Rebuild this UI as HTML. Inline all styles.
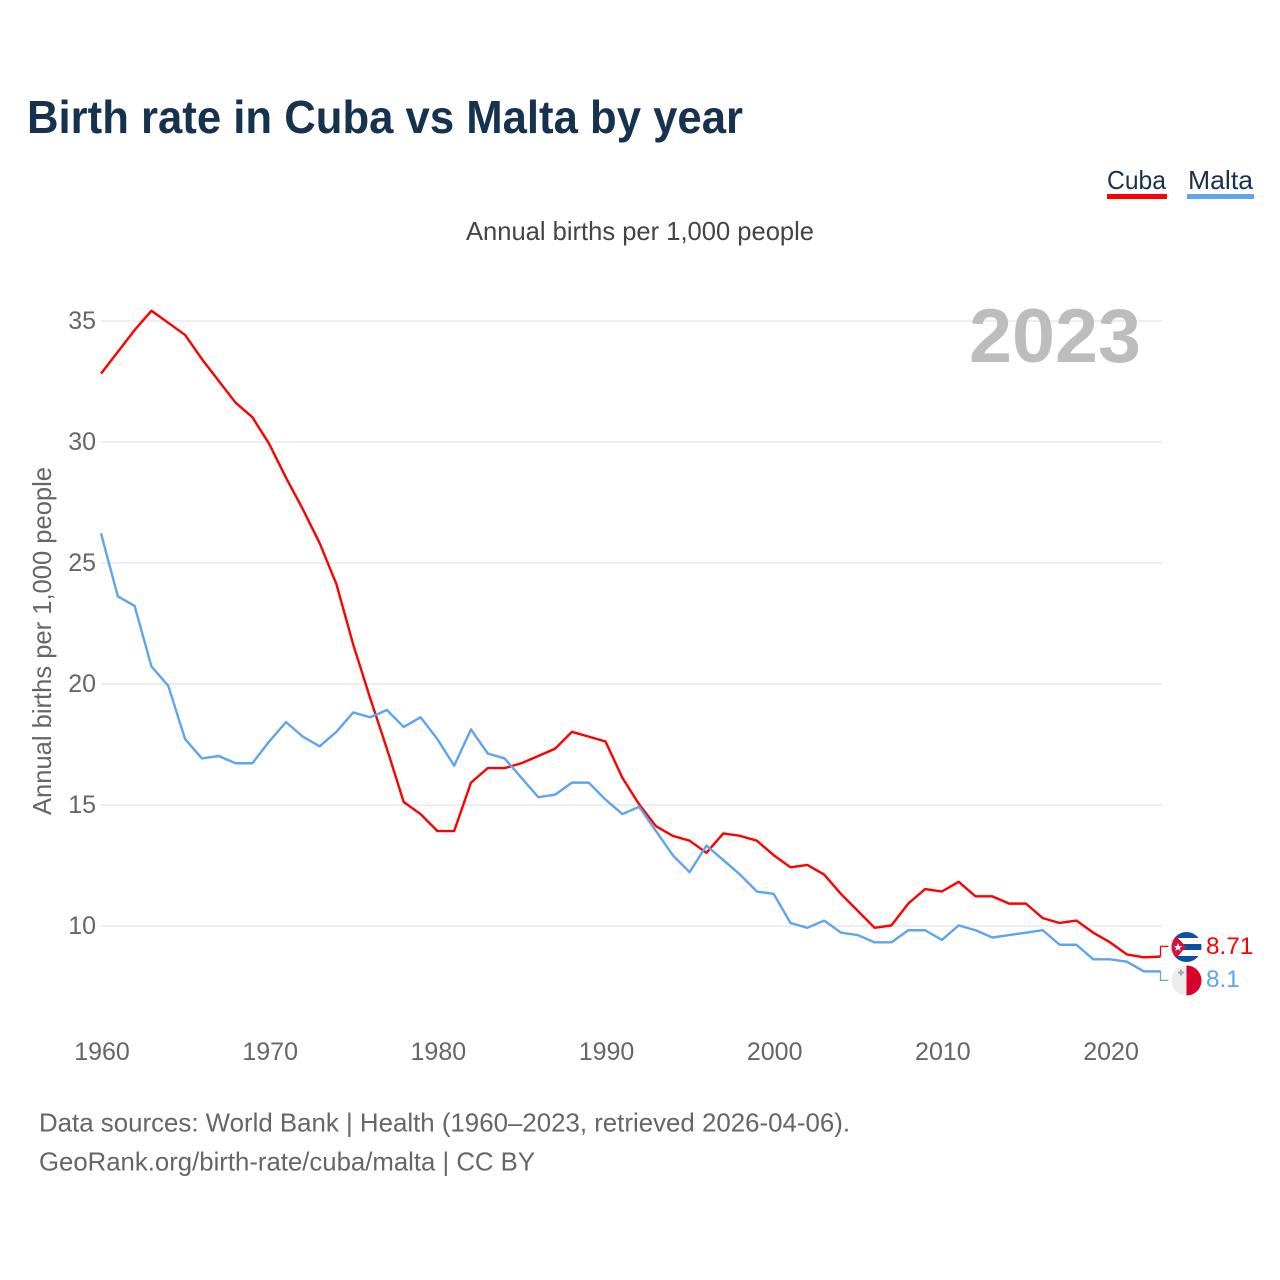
<!DOCTYPE html>
<html lang="en">
<head>
<meta charset="utf-8">
<title>Birth rate in Cuba vs Malta by year</title>
<style>
  html, body { margin: 0; padding: 0; background: #fff; }
  svg { display: block; font-family: "Liberation Sans", sans-serif; }
</style>
</head>
<body>
<svg id="chart" xmlns="http://www.w3.org/2000/svg" width="1280" height="1280" viewBox="0 0 1280 1280">
  <defs>
    <clipPath id="clip-cuba"><circle cx="1186.5" cy="947" r="15"></circle></clipPath>
    <clipPath id="clip-malta"><circle cx="1186.5" cy="980.5" r="15"></circle></clipPath>
  </defs>
  <rect x="0" y="0" width="1280" height="1280" fill="#ffffff"></rect>
  <text x="27" y="133" font-size="46" font-weight="700" fill="#17324f" textLength="716" lengthAdjust="spacingAndGlyphs">Birth rate in Cuba vs Malta by year</text>

  <g>
    <g>
      <text x="1107" y="189" font-size="26" fill="#17324f" textLength="59" lengthAdjust="spacingAndGlyphs">Cuba</text>
      <rect x="1107" y="194" width="60" height="5" fill="#ff0000"></rect>
    </g>
    <g>
      <text x="1188" y="189" font-size="26" fill="#17324f" textLength="65" lengthAdjust="spacingAndGlyphs">Malta</text>
      <rect x="1187" y="194" width="67" height="5" fill="#5ea5ec"></rect>
    </g>
  </g>

  <text x="466" y="240" font-size="26" fill="#444444" textLength="348" lengthAdjust="spacingAndGlyphs">Annual births per 1,000 people</text>
  <text transform="translate(51,815) rotate(-90)" x="0" y="0" font-size="26" fill="#666666" textLength="348" lengthAdjust="spacingAndGlyphs">Annual births per 1,000 people</text>

  <g id="grid"></g>
  <g id="y-ticks"></g>
  <g id="x-ticks"></g>

  <text x="969" y="362" font-size="76" font-weight="700" fill="#bdbdbd" textLength="172" lengthAdjust="spacingAndGlyphs">2023</text>

  <g id="series" transform="translate(-0.5,-0.6)"></g>

  <g clip-path="url(#clip-cuba)">
    <rect x="1171" y="932" width="31" height="30" fill="#ffffff"></rect>
    <rect x="1171" y="932" width="31" height="6" fill="#0a50a8"></rect>
    <rect x="1171" y="944" width="31" height="6" fill="#0a50a8"></rect>
    <rect x="1171" y="956" width="31" height="6" fill="#0a50a8"></rect>
    <polygon points="1171,930 1186,947 1171,964" fill="#d5103a"></polygon>
    <polygon points="1178,943 1179.2,946 1182.2,946 1179.8,948 1180.6,951 1178,949.2 1175.4,951 1176.2,948 1173.8,946 1176.8,946" fill="#ffffff"></polygon>
  </g>
  <g clip-path="url(#clip-malta)">
    <rect x="1171" y="965" width="15.5" height="31" fill="#ececec"></rect>
    <rect x="1186.5" y="965" width="15.5" height="31" fill="#d8002a"></rect>
    <rect x="1178" y="971.5" width="6" height="2" fill="#a8a8a8"></rect>
    <rect x="1180" y="969.5" width="2" height="6" fill="#a8a8a8"></rect>
  </g>

  <g id="end-labels"></g>

  <text x="39" y="1131.5" font-size="26" fill="#666666" textLength="811" lengthAdjust="spacingAndGlyphs">Data sources: World Bank | Health (1960–2023, retrieved 2026-04-06).</text>
  <text x="39" y="1170.5" font-size="26" fill="#666666" textLength="496" lengthAdjust="spacingAndGlyphs">GeoRank.org/birth-rate/cuba/malta | CC BY</text>
</svg>

<script>
var years = [1960,1961,1962,1963,1964,1965,1966,1967,1968,1969,1970,1971,1972,1973,1974,1975,1976,1977,1978,1979,1980,1981,1982,1983,1984,1985,1986,1987,1988,1989,1990,1991,1992,1993,1994,1995,1996,1997,1998,1999,2000,2001,2002,2003,2004,2005,2006,2007,2008,2009,2010,2011,2012,2013,2014,2015,2016,2017,2018,2019,2020,2021,2022,2023];
var cubaValues = [32.8,33.7,34.6,35.4,34.9,34.4,33.4,32.5,31.6,31.0,29.9,28.5,27.2,25.8,24.1,21.6,19.4,17.3,15.1,14.6,13.9,13.9,15.9,16.5,16.5,16.7,17.0,17.3,18.0,17.8,17.6,16.1,15.0,14.1,13.7,13.5,13.0,13.8,13.7,13.5,12.9,12.4,12.5,12.1,11.3,10.6,9.9,10.0,10.9,11.5,11.4,11.8,11.2,11.2,10.9,10.9,10.3,10.1,10.2,9.7,9.3,8.8,8.68,8.71];
var maltaValues = [26.2,23.6,23.2,20.7,19.9,17.7,16.9,17.0,16.7,16.7,17.6,18.4,17.8,17.4,18.0,18.8,18.6,18.9,18.2,18.6,17.7,16.6,18.1,17.1,16.9,16.1,15.3,15.4,15.9,15.9,15.2,14.6,14.9,13.9,12.9,12.2,13.3,12.7,12.1,11.4,11.3,10.1,9.9,10.2,9.7,9.6,9.3,9.3,9.8,9.8,9.4,10.0,9.8,9.5,9.6,9.7,9.8,9.2,9.2,8.6,8.6,8.5,8.1,8.1];
var yTickValues = [10,15,20,25,30,35];
var xTickValues = [1960,1970,1980,1990,2000,2010,2020];
var endLabelCuba = "8.71";
var endLabelMalta = "8.1";

var NS = "http://www.w3.org/2000/svg";
function xScale(year) { return 101.5 + (year - 1960) * (1161 - 101.5) / 63; }
function yScale(value) { return 926 - (value - 10) * 24.2; }
function make(tag, parentId, attrs, text) {
  var el = document.createElementNS(NS, tag);
  for (var k in attrs) { el.setAttribute(k, attrs[k]); }
  if (text !== undefined) { el.textContent = text; }
  document.getElementById(parentId).appendChild(el);
  return el;
}
function linePoints(values) {
  return values.map(function (v, i) {
    return xScale(years[i]).toFixed(2) + "," + yScale(v).toFixed(2);
  }).join(" ");
}

yTickValues.forEach(function (v) {
  var line = make("line", "grid", { x1: 101, x2: 1162, y1: yScale(v), y2: yScale(v), stroke: "#eeeeee", "stroke-width": 2 });
  
  
  var label = make("text", "y-ticks", { x: 96, y: yScale(v) + 8, "text-anchor": "end", "font-size": 25, fill: "#666666" }, String(v));
  
  
});

xTickValues.forEach(function (year) {
  var label = make("text", "x-ticks", { x: xScale(year) + 0.5, y: 1060, "text-anchor": "middle", "font-size": 25, fill: "#666666" }, String(year));
  
  
});

var cubaLine = make("polyline", "series", { points: linePoints(cubaValues), fill: "none", stroke: "#ff0000", "stroke-width": 2.4, "stroke-linejoin": "round" });



var maltaLine = make("polyline", "series", { points: linePoints(maltaValues), fill: "none", stroke: "#5ea5ec", "stroke-width": 2.4, "stroke-linejoin": "round" });



var lastX = xScale(years[years.length - 1]);
var cubaLastY = yScale(cubaValues[cubaValues.length - 1]);
var maltaLastY = yScale(maltaValues[maltaValues.length - 1]);

var cubaConnector = make("polyline", "series", { points: lastX + "," + cubaLastY + " " + lastX + ",947 1169,947", fill: "none", stroke: "#ff0000", "stroke-width": 1.3 });



var maltaConnector = make("polyline", "series", { points: lastX + "," + maltaLastY + " " + lastX + ",981 1169,981", fill: "none", stroke: "#5ea5ec", "stroke-width": 1.3 });



var cubaEnd = make("text", "end-labels", { x: 1206, y: 954, "font-size": 24.3, fill: "#ff0000" }, endLabelCuba);



var maltaEnd = make("text", "end-labels", { x: 1206, y: 987, "font-size": 24.3, fill: "#5ea5ec" }, endLabelMalta);


</script>
</body>
</html>
